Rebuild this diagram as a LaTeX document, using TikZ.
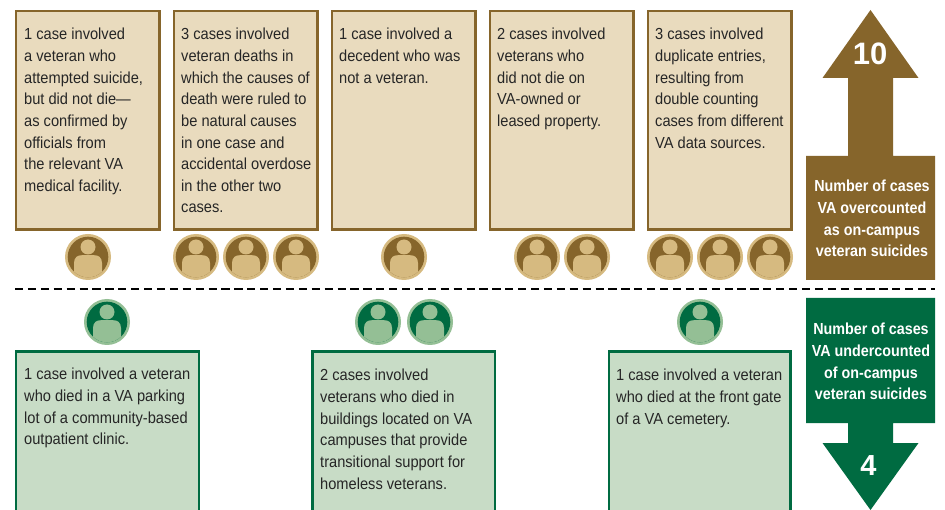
\documentclass[tikz,border=0pt]{standalone}
\usepackage{fontspec}
\setmainfont{Liberation Sans}
\newfontfamily\bodyfont[FakeStretch=0.915]{Liberation Sans}
\newfontfamily\headfont[FakeStretch=0.895]{Liberation Sans}
\definecolor{brn}{HTML}{86652B}
\definecolor{tanfill}{HTML}{E9DBBE}
\definecolor{tanlt}{HTML}{D6BA80}
\definecolor{grn}{HTML}{006B41}
\definecolor{grnfill}{HTML}{C8DCC6}
\definecolor{grnlt}{HTML}{94BF95}
\tikzset{x=1pt,y=-1pt,
  casebox/.style={draw,line width=2.5pt,rectangle},
  tanbox/.style={casebox,draw=brn,fill=tanfill},
  grnbox/.style={casebox,draw=grn,fill=grnfill},
  bodytext/.style={anchor=north west,align=left,inner sep=0pt,font=\bodyfont\fontsize{16}{21.65}\selectfont,text=black!85},
  headtext/.style={text=white,align=center,inner sep=0pt,font=\headfont\fontsize{16}{21.7}\selectfont\bfseries},
  bignum/.style={text=white,inner sep=0pt,font=\fontsize{31}{31}\selectfont\bfseries},
  bignumg/.style={text=white,inner sep=0pt,font=\fontsize{29}{29}\selectfont\bfseries},
  divider/.style={line width=2.7pt,dash pattern=on 8.2pt off 4.7pt}
}
\newcommand{\person}[4]{% x,y,dark,light
  \fill[#4] (#1,#2) circle (23);
  \fill[#3] (#1,#2) circle (20.3);
  \begin{scope}
    \clip (#1,#2) circle (20.3);
    \fill[#4] (#1-14,#2+25) -- (#1-14,#2+6) .. controls (#1-14,#2) and (#1-10,#2-1.8) .. (#1-6,#2-1.8) -- (#1+6,#2-1.8) .. controls (#1+10,#2-1.8) and (#1+14,#2) .. (#1+14,#2+6) -- (#1+14,#2+25) -- cycle;
  \end{scope}
  \fill[#4] (#1,#2-10) circle (7.5);
}
\begin{document}
\begin{tikzpicture}
\useasboundingbox (0,0) rectangle (945,510);
\fill[white] (0,0) rectangle (945,510);
% tan boxes
\foreach \xa/\xb in {16/159.6,174/317.6,332/475.6,490/633.6,648/791.6}
  \draw[tanbox] (\xa,11) rectangle (\xb,229.6);
\node[bodytext] (t1) at (24,28) {1 case involved\\a veteran who\\attempted suicide,\\but did not die—\\as confirmed by\\officials from\\the relevant VA\\medical facility.};
\node[bodytext] (t2) at (181,28) {3 cases involved\\veteran deaths in\\which the causes of\\death were ruled to\\be natural causes\\in one case and\\accidental overdose\\in the other two\\cases.};
\node[bodytext] (t3) at (339,28) {1 case involved a\\decedent who was\\not a veteran.};
\node[bodytext] (t4) at (497,28) {2 cases involved\\veterans who\\did not die on\\VA-owned or\\leased property.};
\node[bodytext] (t5) at (655,28) {3 cases involved\\duplicate entries,\\resulting from\\double counting\\cases from different\\VA data sources.};
% tan icons
\foreach \x in {88,196,246,296,404,537,587,670,720,770}
  \person{\x}{257}{brn}{tanlt};
% divider
\coordinate (dl) at (15,289);
\coordinate (dr) at (935,289);
\draw[divider] (dl) -- (dr);
% green icons
\foreach \x in {107,378,430,700}
  \person{\x}{322}{grn}{grnlt};
% green boxes
\draw[grnbox] (16,351.4) rectangle (198.8,520);
\draw[grnbox] (312.4,351.4) rectangle (494.8,520);
\draw[grnbox] (609,351.4) rectangle (790.6,520);
\node[bodytext] (g1) at (24,368) {1 case involved a veteran\\who died in a VA parking\\lot of a community-based\\outpatient clinic.};
\node[bodytext] (g2) at (320,369) {2 cases involved\\veterans who died in\\buildings located on VA\\campuses that provide\\transitional support for\\homeless veterans.};
\node[bodytext] (g3) at (616,369) {1 case involved a veteran\\who died at the front gate\\of a VA cemetery.};
% brown arrow
\fill[brn] (870.5,10) -- (918.5,78) -- (893,78) -- (893,156) -- (935,156) -- (935,280) -- (806,280) -- (806,156) -- (848,156) -- (848,78) -- (822.5,78) -- cycle;
\node[bignum] (n10) at (870,54) {10};
\node[headtext] (hb) at (872,218.5) {Number of cases\\VA overcounted\\as on-campus\\veteran suicides};
% green arrow
\fill[grn] (806,298) -- (935,298) -- (935,423) -- (893,423) -- (893,443) -- (918.5,443) -- (870.5,510) -- (822.5,443) -- (848,443) -- (848,423) -- (806,423) -- cycle;
\node[bignumg] (n4) at (868.5,466) {4};
\node[headtext] (hg) at (871,361.5) {Number of cases\\VA undercounted\\of on-campus\\veteran suicides};
\end{tikzpicture}
\end{document}
